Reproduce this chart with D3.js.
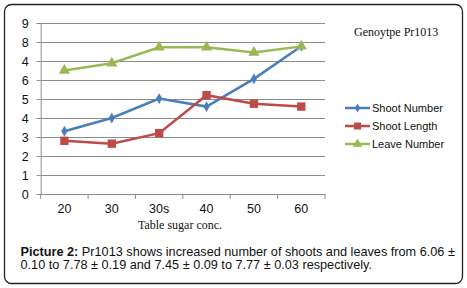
<!DOCTYPE html>
<html>
<head>
<meta charset="utf-8">
<script src="https://cdn.jsdelivr.net/npm/d3@7"></script>
<style>
  body { margin: 0; background: #fff; }
  svg { display: block; }
</style>
</head>
<body>
<svg id="chart" width="467" height="288"></svg>
<script>
// data
var categories = ["20", "30", "30s", "40", "50", "60"];
var shootNumber = [3.3, 4.0, 5.02, 4.6, 6.06, 7.78];
var shootLength = [2.8, 2.65, 3.2, 5.2, 4.75, 4.6];
var leaveNumber = [6.5, 6.88, 7.72, 7.72, 7.45, 7.77];
var yTicks = [0, 1, 2, 3, 4, 5, 6, 7, 8, 9];
// the original prints "4" where 7 should be
var yTickLabels = ["0", "1", "2", "3", "4", "5", "6", "4", "8", "9"];

var series = [
  {name: "Shoot Number", values: shootNumber, color: "#4a7ebb", marker: d3.symbolDiamond, size: 34},
  {name: "Shoot Length", values: shootLength, color: "#be4b48", marker: d3.symbolSquare, size: 70},
  {name: "Leave Number", values: leaveNumber, color: "#98b954", marker: d3.symbolTriangle, size: 55}
];

var svg = d3.select("#chart");
var margin = {left: 40.7, right: 142, top: 23, bottom: 94};
var width = 467 - margin.left - margin.right;
var height = 288 - margin.top - margin.bottom;

// outer frame
svg.append("rect")
    .attr("x", 4.5).attr("y", 4.5)
    .attr("width", 458).attr("height", 279)
    .attr("rx", 7)
    .attr("fill", "#fff")
    .attr("stroke", "#222")
    .attr("stroke-width", 1.3);

var x = d3.scaleBand()
    .domain(categories)
    .range([0, width]);

var y = d3.scaleLinear()
    .domain([0, 9])
    .range([height, 0]);

var g = svg.append("g")
    .attr("transform", "translate(" + margin.left + "," + margin.top + ")");

// gridlines
g.append("g")
  .selectAll("line")
  .data(yTicks.filter(d => d > 0))
  .join("line")
    .attr("x1", 0)
    .attr("x2", width)
    .attr("y1", d => Math.round(y(d)) + 0.5)
    .attr("y2", d => Math.round(y(d)) + 0.5)
    .attr("stroke", "#8c8c8c")
    .attr("stroke-width", 1);

// y axis
var yAxis = g.append("g")
    .call(d3.axisLeft(y).tickValues(yTicks).tickSize(4).tickFormat((d, i) => yTickLabels[i]));
yAxis.select(".domain").attr("stroke", "#8c8c8c");
yAxis.selectAll(".tick line").attr("stroke", "#8c8c8c");
yAxis.selectAll(".tick text")
    .attr("x", -12)
    .style("font", "12.5px 'Liberation Sans', Arial, sans-serif")
    .attr("fill", "#111");

// x axis: ticks on category boundaries
var xAxis = g.append("g")
    .attr("transform", "translate(0," + height + ")");
xAxis.append("line")
    .attr("x1", 0).attr("x2", width)
    .attr("y1", 0.5).attr("y2", 0.5)
    .attr("stroke", "#8c8c8c");
xAxis.selectAll(".bound")
  .data(categories.map(c => x(c)).concat([width]))
  .join("line")
    .attr("class", "bound")
    .attr("x1", d => d).attr("x2", d => d)
    .attr("y1", 0).attr("y2", 5)
    .attr("stroke", "#8c8c8c");
xAxis.selectAll("text")
  .data(categories)
  .join("text")
    .attr("x", d => x(d) + x.bandwidth() / 2)
    .attr("y", 19)
    .attr("text-anchor", "middle")
    .style("font", "12.5px 'Liberation Sans', Arial, sans-serif")
    .attr("fill", "#111")
    .text(d => d);

// axis title
svg.append("text")
    .attr("x", 180)
    .attr("y", 229)
    .attr("text-anchor", "middle")
    .style("font", "12px 'Liberation Serif', 'Times New Roman', serif")
    .attr("fill", "#111")
    .text("Table sugar conc.");

// chart title
svg.append("text")
    .attr("x", 354)
    .attr("y", 36)
    .style("font", "12px 'Liberation Serif', 'Times New Roman', serif")
    .attr("fill", "#111")
    .text("Genoytpe Pr1013");

// lines and markers
var line = d3.line()
    .x((d, i) => x(categories[i]) + x.bandwidth() / 2)
    .y(d => y(d));

series.forEach(function(s) {
  g.append("path")
      .datum(s.values)
      .attr("d", line)
      .attr("fill", "none")
      .attr("stroke", s.color)
      .attr("stroke-width", 2.5);
  g.append("g")
    .selectAll("path")
    .data(s.values)
    .join("path")
      .attr("transform", (d, i) => "translate(" + (x(categories[i]) + x.bandwidth() / 2) + "," + y(d) + ")")
      .attr("d", d3.symbol().type(s.marker).size(s.size))
      .attr("fill", s.color);
});

// legend
var legend = svg.append("g")
    .attr("transform", "translate(345,108)");
var item = legend.selectAll("g")
  .data(series)
  .join("g")
    .attr("transform", (d, i) => "translate(0," + i * 18 + ")");
item.append("line")
    .attr("x1", 0).attr("x2", 25)
    .attr("stroke", d => d.color)
    .attr("stroke-width", 2.5);
item.append("path")
    .attr("transform", "translate(12.5,0)")
    .attr("d", d => d3.symbol().type(d.marker).size(d.size * 0.7)())
    .attr("fill", d => d.color);
item.append("text")
    .attr("x", 27)
    .attr("y", 4)
    .style("font", "11px 'Liberation Sans', Arial, sans-serif")
    .attr("fill", "#111")
    .text(d => d.name);

// caption
var caption = svg.append("text")
    .style("font", "12.7px 'Liberation Sans', Arial, sans-serif")
    .attr("fill", "#111");
var l1 = caption.append("tspan").attr("x", 20.5).attr("y", 256);
l1.append("tspan").style("font-weight", "bold").text("Picture 2:");
l1.append("tspan").text(" Pr1013 shows increased number of shoots and leaves from 6.06 \u00b1");
caption.append("tspan").attr("x", 20.5).attr("y", 269)
    .text("0.10 to 7.78 \u00b1 0.19 and 7.45 \u00b1 0.09 to 7.77 \u00b1 0.03 respectively.");
</script>
</body>
</html>
